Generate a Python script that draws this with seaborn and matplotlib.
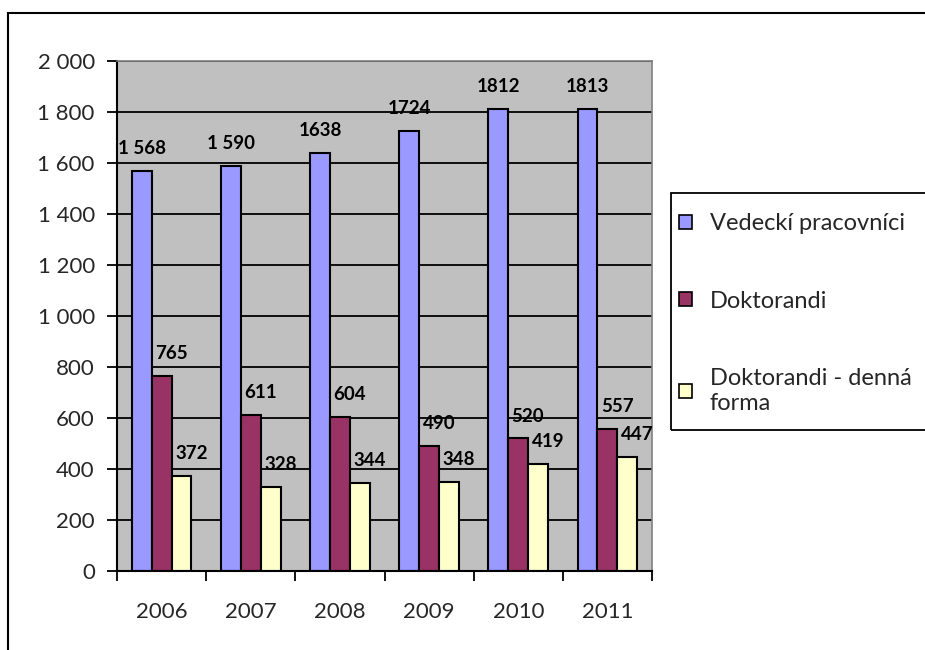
import matplotlib
matplotlib.use("Agg")
import matplotlib.pyplot as plt
from matplotlib.patches import Rectangle
from matplotlib.ticker import FuncFormatter, FixedLocator
import numpy as np
import pandas as pd
import seaborn as sns

years = ["2006", "2007", "2008", "2009", "2010", "2011"]
series_names = ["Vedeckí pracovníci", "Doktorandi", "Doktorandi - denná\nforma"]
vedecki = [1568, 1590, 1638, 1724, 1812, 1813]
doktorandi = [765, 611, 604, 490, 520, 557]
denna = [372, 328, 344, 348, 419, 447]
label_texts = [
    ["1 568", "1 590", "1638", "1724", "1812", "1813"],
    ["765", "611", "604", "490", "520", "557"],
    ["372", "328", "344", "348", "419", "447"],
]
colors = ["#9999FF", "#993366", "#FFFFCC"]

df = pd.DataFrame({
    "year": years * 3,
    "value": vedecki + doktorandi + denna,
    "series": [s for s in series_names for _ in years],
})

sns.set_theme(style="white")
plt.rcParams["font.family"] = ["Lato", "DejaVu Sans"]

fig = plt.figure(figsize=(9.25, 6.5), dpi=100)
ax = fig.add_axes([117 / 925, 1 - 571 / 650, (652 - 117) / 925, (571 - 61) / 650])
ax.set_facecolor("#C0C0C0")

sns.barplot(
    data=df, x="year", y="value", hue="series", hue_order=series_names,
    palette=colors, edgecolor="black", linewidth=1.5, width=0.67,
    saturation=1, ax=ax, legend=True,
)

ax.set_ylim(0, 2000)
ax.set_xlim(-0.5, len(years) - 0.5)
ax.set_yticks(np.arange(0, 2001, 200))
ax.yaxis.set_major_formatter(FuncFormatter(lambda v, _: f"{int(v):,}".replace(",", " ")))
ax.yaxis.grid(True, color="black", linewidth=1.3)
ax.set_axisbelow(True)

# tick marks sit on category boundaries, labels at centres
ax.xaxis.set_minor_locator(FixedLocator(np.arange(-0.5, len(years), 1.0)))
ax.tick_params(axis="x", which="major", length=0, pad=22, labelsize=16)
ax.tick_params(axis="x", which="minor", length=7, width=1.3, color="black", direction="out", bottom=True)
ax.tick_params(axis="y", length=7, width=1.3, color="black", direction="out", left=True, pad=9, labelsize=16)

ax.set_xlabel("")
ax.set_ylabel("")
for side in ["left", "bottom"]:
    ax.spines[side].set_color("black")
    ax.spines[side].set_linewidth(1.5)
for side in ["top", "right"]:
    ax.spines[side].set_color("#808080")
    ax.spines[side].set_linewidth(1.2)

offsets = [0, 7, 7]
for container, texts, dx in zip(ax.containers, label_texts, offsets):
    ax.bar_label(container, labels=texts, padding=10, fontsize=13.5,
                 fontweight="bold", color="black")
    for t in ax.texts[-len(texts):]:
        t.xyann = (t.xyann[0] + dx, t.xyann[1])

handles, labels = ax.get_legend_handles_labels()
ax.get_legend().remove()
leg = fig.legend(
    handles, labels, loc="upper left", bbox_to_anchor=(679 / 925, 1 - 213 / 650),
    frameon=False, fontsize=17, labelspacing=2.4,
    handlelength=0.55, handleheight=0.55, handletextpad=0.75, borderpad=0,
    borderaxespad=0,
)
for h in leg.legend_handles:
    h.set_linewidth(1.2)

# legend frame runs past the right edge, as in the original
fig.add_artist(Rectangle((671 / 925, 1 - 430 / 650), 0.4, (430 - 193) / 650,
                         transform=fig.transFigure, fill=False,
                         edgecolor="black", linewidth=1.3))

fig.add_artist(Rectangle((8 / 925, -0.1), 1.2, 1 - 13 / 650 + 0.1,
                         transform=fig.transFigure, fill=False,
                         edgecolor="black", linewidth=1.5))

fig.savefig("out.png", dpi=100, facecolor="white")
